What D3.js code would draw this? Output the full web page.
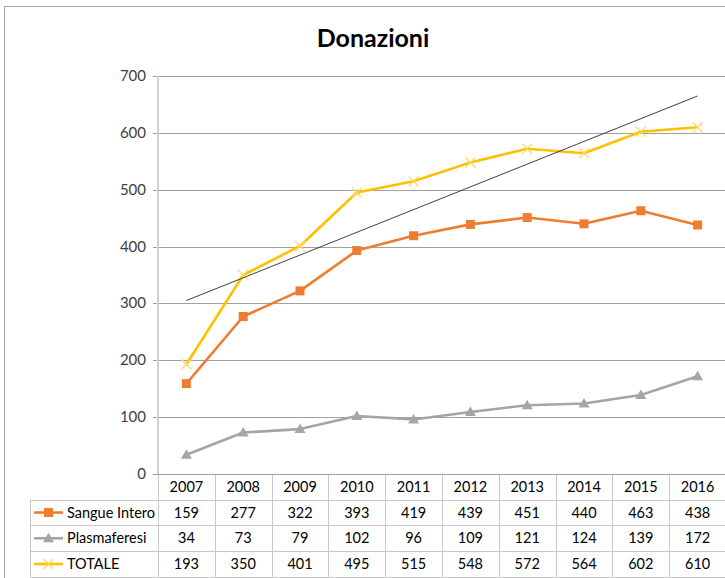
<!DOCTYPE html>
<html lang="it">
<head>
<meta charset="utf-8">
<title>Donazioni</title>
<script src="https://d3js.org/d3.v7.min.js"></script>
<style>
  body { margin: 0; background: #fff; }
  svg { display: block; font-family: Lato, "Open Sans", sans-serif; }
  .title { font-size: 25px; font-weight: 700; fill: #000; }
  .ylab { font-size: 15px; fill: #404040; }
  .cell { font-size: 14.5px; fill: #000; }
</style>
</head>
<body>
<div id="chart"></div>
<script>
// data
const years = ["2007","2008","2009","2010","2011","2012","2013","2014","2015","2016"];
const sangueIntero = [159, 277, 322, 393, 419, 439, 451, 440, 463, 438];
const plasmaferesi = [34, 73, 79, 102, 96, 109, 121, 124, 139, 172];
const totale = [193, 350, 401, 495, 515, 548, 572, 564, 602, 610];
const yTicks = [0, 100, 200, 300, 400, 500, 600, 700];

const series = [
  {name: "Sangue Intero", values: sangueIntero, color: "#ED7D31", marker: "square"},
  {name: "Plasmaferesi", values: plasmaferesi, color: "#A5A5A5", marker: "triangle"},
  {name: "TOTALE", values: totale, color: "#FFC000", marker: "x"}
];

const W = 725, H = 578;
const plot = {left: 158, right: 726, top: 76, bottom: 474};
const tableLeft = 30;
const rowH = 25.7;

const svg = d3.select("#chart").append("svg")
  .attr("width", W).attr("height", H);

// outer chart border
svg.append("rect")
  .attr("x", 4.5).attr("y", 6.5)
  .attr("width", W + 10).attr("height", H + 10)
  .attr("fill", "none").attr("stroke", "#a6a6a6");

const x = d3.scaleBand().domain(years).range([plot.left, plot.right]);
const y = d3.scaleLinear().domain([0, 700]).range([plot.bottom, plot.top]);
const cx = d => x(d) + x.bandwidth() / 2;

svg.append("text").attr("class", "title")
  .attr("x", 373).attr("y", 47).attr("text-anchor", "middle")
  .text("Donazioni");

// gridlines
svg.append("g").selectAll("line").data(yTicks.filter(d => d > 0)).join("line")
  .attr("x1", plot.left - 5).attr("x2", plot.right)
  .attr("y1", d => Math.round(y(d)) + 0.5).attr("y2", d => Math.round(y(d)) + 0.5)
  .attr("stroke", "#a0a0a0").attr("stroke-width", 1);

// y labels
svg.append("g").selectAll("text").data(yTicks).join("text")
  .attr("class", "ylab")
  .attr("x", plot.left - 12).attr("y", d => y(d) + 5)
  .attr("text-anchor", "end")
  .text(d => d);

// table grid
const tableBottom = plot.bottom + rowH * 4;
const tg = svg.append("g").attr("stroke", "#c8c8c8").attr("stroke-width", 1);
// vertical lines at band boundaries
years.concat(["end"]).forEach((d, i) => {
  const xx = d === "end" ? plot.right - 0.5 : Math.round(x(d)) + 0.5;
  tg.append("line").attr("x1", xx).attr("x2", xx)
    .attr("y1", plot.bottom).attr("y2", tableBottom);
});
tg.append("line").attr("x1", tableLeft + 0.5).attr("x2", tableLeft + 0.5)
  .attr("y1", plot.bottom + rowH).attr("y2", tableBottom);
for (let r = 1; r <= 4; r++) {
  const yy = Math.round(plot.bottom + rowH * r) + 0.5;
  tg.append("line").attr("x1", tableLeft).attr("x2", plot.right)
    .attr("y1", yy).attr("y2", yy);
}

// vertical axis line
svg.append("line")
  .attr("x1", plot.left).attr("x2", plot.left)
  .attr("y1", plot.top).attr("y2", plot.bottom)
  .attr("stroke", "#d0d0d0").attr("stroke-width", 2);

// x axis baseline
svg.append("line")
  .attr("x1", plot.left - 5).attr("x2", plot.right)
  .attr("y1", plot.bottom + 0.5).attr("y2", plot.bottom + 0.5)
  .attr("stroke", "#a0a0a0");

// marker drawing
function drawMarker(g, type, color, px, py) {
  if (type === "square") {
    g.append("rect").attr("x", px - 4.5).attr("y", py - 4.5)
      .attr("width", 9).attr("height", 9).attr("fill", color);
  } else if (type === "triangle") {
    g.append("path")
      .attr("d", `M${px},${py - 5.5}L${px + 5.5},${py + 4}L${px - 5.5},${py + 4}Z`)
      .attr("fill", color);
  } else {
    g.append("path")
      .attr("d", `M${px - 5},${py - 5}L${px + 5},${py + 5}M${px - 5},${py + 5}L${px + 5},${py - 5}`)
      .attr("stroke", "#FFD966").attr("stroke-width", 1.3).attr("fill", "none");
  }
}

// trendline (linear regression on TOTALE)
const n = totale.length;
const xm = d3.mean(d3.range(n));
const ym = d3.mean(totale);
const slope = d3.sum(totale, (v, i) => (i - xm) * (v - ym)) / d3.sum(d3.range(n), i => (i - xm) ** 2);
const icpt = ym - slope * xm;

// lines
const line = d3.line().x((d, i) => cx(years[i])).y(d => y(d));
series.forEach(s => {
  const g = svg.append("g");
  g.append("path").datum(s.values)
    .attr("d", line).attr("fill", "none")
    .attr("stroke", s.color).attr("stroke-width", 2.6)
    .attr("stroke-linejoin", "round");
  s.values.forEach((v, i) => drawMarker(g, s.marker, s.color, cx(years[i]), y(v)));
});

svg.append("line")
  .attr("x1", cx(years[0])).attr("y1", y(icpt))
  .attr("x2", cx(years[n - 1])).attr("y2", y(icpt + slope * (n - 1)))
  .attr("stroke", "#404040").attr("stroke-width", 1);

// table: header years
svg.append("g").selectAll("text").data(years).join("text")
  .attr("class", "cell")
  .attr("x", d => cx(d)).attr("y", plot.bottom + rowH / 2 + 5)
  .attr("text-anchor", "middle").text(d => d);

// table rows
series.forEach((s, r) => {
  const rowY = plot.bottom + rowH * (r + 1) + rowH / 2;
  const g = svg.append("g");
  g.append("line").attr("x1", 34).attr("x2", 63)
    .attr("y1", rowY).attr("y2", rowY)
    .attr("stroke", s.color).attr("stroke-width", 2.6);
  drawMarker(g, s.marker, s.color, 48.5, rowY);
  g.append("text").attr("class", "cell")
    .attr("x", 67).attr("y", rowY + 5).text(s.name);
  g.selectAll("text.v").data(s.values).join("text")
    .attr("class", "cell v")
    .attr("x", (d, i) => cx(years[i])).attr("y", rowY + 5)
    .attr("text-anchor", "middle").text(d => d);
});
</script>
</body>
</html>
